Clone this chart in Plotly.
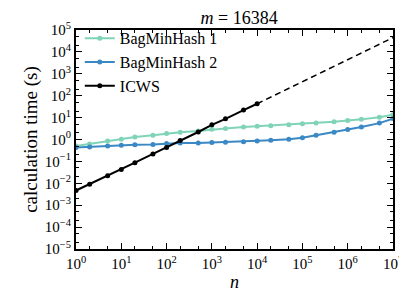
import plotly.graph_objects as go

n = [1, 2, 5, 10, 20, 50, 100, 200, 500, 1e3, 2e3, 5e3, 1e4, 2e4, 5e4,
     1e5, 2e5, 5e5, 1e6, 2e6, 5e6, 1e7]
bmh1 = [0.50, 0.62, 0.85, 1.02, 1.29, 1.58, 1.87, 2.15, 2.45, 2.9, 3.2, 3.7,
        3.98, 4.3, 4.75, 5.2, 5.6, 6.4, 7.4, 8.3, 10.5, 13.5]
bmh2 = [0.43, 0.46, 0.51, 0.55, 0.57, 0.59, 0.65, 0.69, 0.69, 0.72, 0.75, 0.79,
        0.85, 0.92, 1.02, 1.2, 1.58, 2.15, 2.83, 3.7, 5.6, 9.0]
icws_n = [1, 2, 5, 10, 20, 50, 100, 200, 500, 1e3, 2e3, 5e3, 1e4]
icws = [0.0047, 0.0091, 0.022, 0.043, 0.087, 0.22, 0.43, 0.9, 2.2, 4.7, 8.8, 22, 43]
extrap_n = [1e4, 1e7]
extrap_t = [43, 45000]

x_tickvals = [1, 10, 100, 1e3, 1e4, 1e5, 1e6, 1e7]
x_ticktext = ["10<sup>%d</sup>" % k for k in range(0, 8)]
y_tickvals = [10.0 ** k for k in range(-5, 6)]
y_ticktext = ["10<sup>%d</sup>" % k if k >= 0 else "10<sup>\u2212%d</sup>" % (-k) for k in range(-5, 6)]

FONT = "Liberation Serif"
fig = go.Figure()
fig.add_trace(go.Scatter(x=n, y=bmh1, mode="lines+markers", name="BagMinHash 1",
                         line=dict(color="#7fd3b6", width=2), marker=dict(size=5)))
fig.add_trace(go.Scatter(x=n, y=bmh2, mode="lines+markers", name="BagMinHash 2",
                         line=dict(color="#3a88c4", width=2), marker=dict(size=5)))
fig.add_trace(go.Scatter(x=icws_n, y=icws, mode="lines+markers", name="ICWS",
                         line=dict(color="black", width=2), marker=dict(size=5)))
fig.add_trace(go.Scatter(x=extrap_n, y=extrap_t, mode="lines", showlegend=False,
                         line=dict(color="black", width=1.5, dash="6px,4px")))

axis_common = dict(type="log", showline=True, linecolor="black", linewidth=2,
                   mirror="allticks", ticks="inside", ticklen=6, tickcolor="black",
                   showgrid=False, zeroline=False, tickmode="array",
                   tickfont=dict(family=FONT, size=15, color="black"),
                   minor=dict(ticks="inside", ticklen=3, tickcolor="black", showgrid=False))

fig.update_xaxes(**axis_common, range=[0, 7], tickvals=x_tickvals, ticktext=x_ticktext,
                 title=dict(text="<i>n</i>", font=dict(family=FONT, size=18, color="black"), standoff=4))
fig.update_yaxes(**axis_common, range=[-5, 5], tickvals=y_tickvals, ticktext=y_ticktext,
                 title=dict(text="calculation time (s)", font=dict(family=FONT, size=19, color="black"), standoff=2))

fig.update_layout(
    width=407, height=293,
    margin=dict(l=68, r=12, t=21, b=47),
    paper_bgcolor="white", plot_bgcolor="white",
    title=dict(text="<i>m</i> = 16384", x=0.568, xanchor="center", y=1 - 10 / 293, yanchor="middle",
               font=dict(family=FONT, size=18, color="black")),
    legend=dict(x=0.012, y=1.04, xanchor="left", yanchor="top", bgcolor="rgba(0,0,0,0)",
                font=dict(family=FONT, size=16, color="black"), itemwidth=30,
                tracegroupgap=0),
    font=dict(family=FONT),
)
fig.write_html("out.html")
